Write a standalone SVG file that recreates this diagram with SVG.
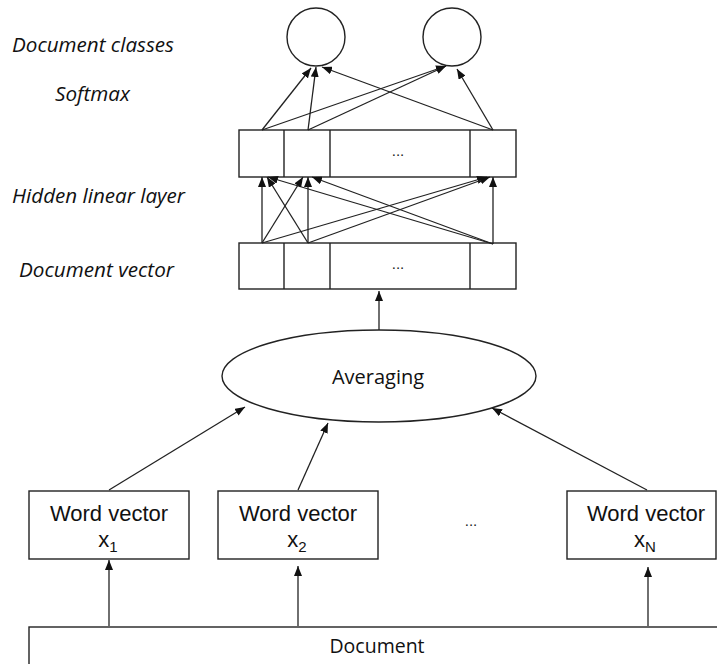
<svg xmlns="http://www.w3.org/2000/svg" width="717" height="664" viewBox="0 0 717 664">
<defs>
<marker id="ah" markerUnits="userSpaceOnUse" markerWidth="10" markerHeight="8" refX="10" refY="4" orient="auto">
<path d="M0,0 L10,4 L0,8 z" fill="#111"/>
</marker>
<style>
.box{fill:#fff;stroke:#222;stroke-width:1.4}
.edge{stroke:#222;stroke-width:1.3;fill:none;marker-end:url(#ah)}
.lbl{font-family:"Open Sans","Liberation Sans",sans-serif;font-style:italic;font-size:20.5px;fill:#111}
.wv{font-family:"Liberation Sans",Arial,sans-serif;font-size:22px;fill:#111;text-anchor:middle}
.cal{font-family:"Open Sans","Liberation Sans",sans-serif;fill:#111;text-anchor:middle}
.dots{font-family:"Liberation Sans",Arial,sans-serif;font-size:15px;fill:#222;text-anchor:middle}
</style>
</defs>
<rect width="717" height="664" fill="#fff"/>
<g id="labels">
<text class="lbl" x="12" y="52" textLength="162" lengthAdjust="spacingAndGlyphs">Document classes</text>
<text class="lbl" x="55" y="101" textLength="75" lengthAdjust="spacingAndGlyphs">Softmax</text>
<text class="lbl" x="12" y="203" textLength="173" lengthAdjust="spacingAndGlyphs">Hidden linear layer</text>
<text class="lbl" x="19" y="277" textLength="155" lengthAdjust="spacingAndGlyphs">Document vector</text>
</g>
<g id="class1"><circle cx="316" cy="37" r="29" class="box"/></g>
<g id="class2"><circle cx="452" cy="37" r="29" class="box"/></g>
<g id="hidden">
<rect x="239" y="130" width="277" height="47" class="box"/>
<line x1="284" y1="130" x2="284" y2="177" stroke="#222" stroke-width="1.4"/>
<line x1="330" y1="130" x2="330" y2="177" stroke="#222" stroke-width="1.4"/>
<line x1="470" y1="130" x2="470" y2="177" stroke="#222" stroke-width="1.4"/>
<text class="dots" x="398" y="156">...</text>
</g>
<g id="docvector">
<rect x="239" y="243" width="277" height="46" class="box"/>
<line x1="284" y1="243" x2="284" y2="289" stroke="#222" stroke-width="1.4"/>
<line x1="330" y1="243" x2="330" y2="289" stroke="#222" stroke-width="1.4"/>
<line x1="470" y1="243" x2="470" y2="289" stroke="#222" stroke-width="1.4"/>
<text class="dots" x="398" y="269">...</text>
</g>
<g id="averaging">
<ellipse cx="379" cy="376" rx="157" ry="46" class="box"/>
<text class="cal" x="378" y="384" font-size="20">Averaging</text>
</g>
<g id="wv1">
<rect x="29" y="491" width="160" height="68" class="box"/>
<text class="wv" x="109" y="521">Word vector</text>
<text class="wv" x="108" y="547">x<tspan font-size="15" dy="5">1</tspan></text>
</g>
<g id="wv2">
<rect x="218" y="491" width="160" height="68" class="box"/>
<text class="wv" x="298" y="521">Word vector</text>
<text class="wv" x="297" y="547">x<tspan font-size="15" dy="5">2</tspan></text>
</g>
<g id="dots">
<text class="dots" x="471" y="526" fill="#555">...</text>
</g>
<g id="wvN">
<rect x="567" y="491" width="149" height="68" class="box"/>
<text class="wv" x="646" y="521">Word vector</text>
<text class="wv" x="645" y="547">x<tspan font-size="15" dy="5">N</tspan></text>
</g>
<g id="document">
<rect x="29" y="627" width="720" height="60" class="box"/>
<text class="cal" x="377" y="653" font-size="19.5">Document</text>
</g>
<g id="connectors">
<line class="edge" x1="262" y1="130" x2="311" y2="68"/>
<line class="edge" x1="308" y1="130" x2="316" y2="67"/>
<line class="edge" x1="493" y1="130" x2="322" y2="67"/>
<line class="edge" x1="262" y1="130" x2="446" y2="66"/>
<line class="edge" x1="308" y1="130" x2="446" y2="66"/>
<line class="edge" x1="493" y1="130" x2="457" y2="69"/>
<line class="edge" x1="262" y1="243" x2="262" y2="177"/>
<line class="edge" x1="308" y1="243" x2="267" y2="177"/>
<line class="edge" x1="493" y1="244" x2="268" y2="177"/>
<line class="edge" x1="262" y1="243" x2="303" y2="177"/>
<line class="edge" x1="308" y1="243" x2="308" y2="177"/>
<line class="edge" x1="493" y1="244" x2="312" y2="177"/>
<line class="edge" x1="262" y1="243" x2="487" y2="177"/>
<line class="edge" x1="308" y1="243" x2="490" y2="177"/>
<line class="edge" x1="493" y1="244" x2="493" y2="177"/>
<line class="edge" x1="379" y1="330" x2="379" y2="291"/>
<line class="edge" x1="109" y1="490" x2="245" y2="407"/>
<line class="edge" x1="298" y1="490" x2="328" y2="423"/>
<line class="edge" x1="647" y1="490" x2="492" y2="408"/>
<line class="edge" x1="109" y1="626" x2="109" y2="560"/>
<line class="edge" x1="298" y1="626" x2="298" y2="566"/>
<line class="edge" x1="648" y1="626" x2="648" y2="567"/>
</g>
</svg>
